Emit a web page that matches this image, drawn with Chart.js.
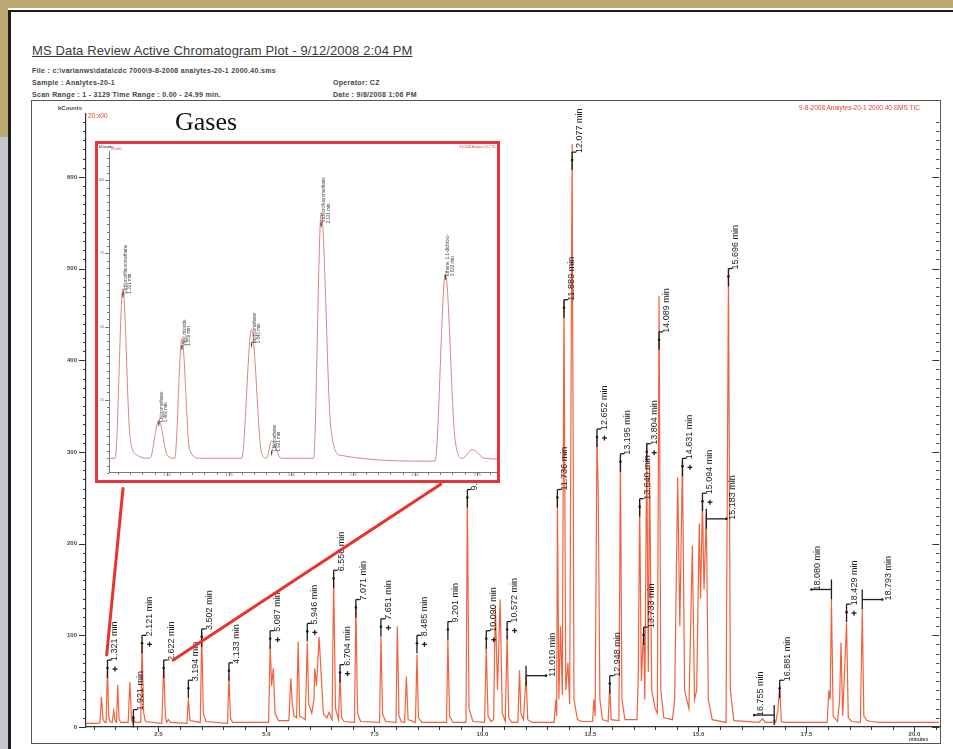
<!DOCTYPE html>
<html lang="en">
<head>
<meta charset="UTF-8">
<meta name="viewport" content="width=device-width, initial-scale=1.0">
<title>MS Data Review Active Chromatogram Plot</title>
<style>
    body {
        margin: 0;
        width: 953px;
        height: 749px;
        overflow: hidden;
        position: relative;
        background: #ffffff;
        font-family: "Liberation Sans", Arial, sans-serif;
        color: #333;
    }

    .abs { position: absolute; white-space: nowrap; }

    #band-top { left: 0; top: 0; width: 953px; height: 8px; background: #bca873; }
    #band-left { left: 0; top: 0; width: 8px; height: 137px; background: #bca873; }
    #gray-left { left: 0; top: 137px; width: 8px; height: 612px; background: #c5c6cc; }
    #page-top { left: 8px; top: 10px; width: 945px; height: 2px; background: #1c1c1c; }
    #page-left { left: 8px; top: 10px; width: 3px; height: 739px; background: #1c1c1c; }

    #title { left: 32px; top: 44px; font-size: 13px; line-height: 13px; letter-spacing: 0.13px; text-decoration: underline; color: #3a3a3a; }
    .info { font-size: 7px; line-height: 7px; font-weight: bold; letter-spacing: 0.3px; color: #444; }

    #plot-box { left: 31px; top: 100px; width: 910px; height: 644px; border: 1px solid #555; box-sizing: border-box; }
    #main { left: 32px; top: 101px; }

    .tiny { font-size: 6px; line-height: 6px; font-weight: bold; color: #444; }
    .red { color: #e8402a; font-weight: normal; font-size: 6.5px; }

    #gases { left: 175px; top: 109px; font-family: "Liberation Serif", "Times New Roman", serif; font-size: 26px; line-height: 26px; color: #111; }

    #inset-box { left: 95px; top: 141px; width: 405px; height: 342px; border: 3px solid #e8333a; box-sizing: border-box; background: #fff; }
    #inset { left: 98px; top: 144px; }
    .inset-tiny { font-size: 3.5px; line-height: 4px; }
</style>
</head>

<body>
    <div class="abs" id="band-top"></div>
    <div class="abs" id="band-left"></div>
    <div class="abs" id="gray-left"></div>
    <div class="abs" id="page-top"></div>
    <div class="abs" id="page-left"></div>

    <div class="abs" id="title">MS Data Review Active Chromatogram Plot - 9/12/2008 2:04 PM</div>
    <div class="abs info" style="left:32px; top:67px;">File : c:\varianws\data\cdc 7000\9-8-2008 analytes-20-1 2000.40.sms</div>
    <div class="abs info" style="left:32px; top:79px;">Sample : Analytes-20-1</div>
    <div class="abs info" style="left:32px; top:91px;">Scan Range : 1 - 3129 Time Range : 0.00 - 24.99 min.</div>
    <div class="abs info" style="left:333px; top:79px;">Operator: CZ</div>
    <div class="abs info" style="left:333px; top:91px;">Date : 9/8/2008 1:06 PM</div>

    <div class="abs" id="plot-box"></div>
    <canvas class="abs" id="main" width="908" height="642"></canvas>

    <div class="abs tiny" style="left:40px; top:105px; width:42px; text-align:right;">kCounts</div>
    <div class="abs tiny red" style="left:88px; top:113px;">20:x00</div>
    <div class="abs tiny red" style="left:700px; top:105px; width:220px; text-align:right;">9-8-2008 Analytes-20-1 2000.40.SMS TIC</div>
    <div class="abs tiny" style="left:909px; top:736px; font-size:5px;">minutes</div>
    <div class="abs" id="gases">Gases</div>

    <div class="abs" id="inset-box"></div>
    <canvas class="abs" id="inset" width="399" height="336"></canvas>
    <div class="abs tiny inset-tiny" style="left:99px; top:145px;">kCounts</div>
    <div class="abs tiny inset-tiny red" style="left:111px; top:147px; font-size:3.5px;">20:x00</div>
    <div class="abs tiny inset-tiny red" style="left:440px; top:145px; width:56px; text-align:right; font-size:3px;">9-8-2008 Analytes-20-1 TIC</div>

    <script src="https://cdn.jsdelivr.net/npm/chart.js"></script>
    <script>
        // TIC trace (minutes, kCounts)
        const retentionTimes = [
            0.824, 1.10, 1.15, 1.18, 1.22, 1.26, 1.29, 1.321, 1.35, 1.38,
            1.43, 1.466, 1.50, 1.53, 1.559, 1.59, 1.63, 1.80, 1.84, 1.88,
            1.90, 1.921, 1.96, 2.09, 2.121, 2.16, 2.20, 2.58, 2.622, 2.66,
            2.69, 2.73, 2.78, 3.16, 3.194, 3.23, 3.47, 3.502, 3.54, 3.60,
            4.10, 4.133, 4.17, 4.22, 5.05, 5.087, 5.12, 5.16, 5.20, 5.28,
            5.52, 5.565, 5.60, 5.64, 5.70, 5.735, 5.77, 5.90, 5.946, 5.98,
            6.05, 6.10, 6.12, 6.16, 6.22, 6.27, 6.32, 6.40, 6.45, 6.50,
            6.52, 6.556, 6.60, 6.67, 6.704, 6.74, 6.80, 7.04, 7.071, 7.11,
            7.18, 7.62, 7.651, 7.69, 7.76, 8.00, 8.03, 8.07, 8.12, 8.20,
            8.24, 8.28, 8.45, 8.485, 8.52, 8.60, 9.17, 9.201, 9.24, 9.32,
            9.62, 9.652, 9.69, 9.78, 10.05, 10.090, 10.13, 10.20, 10.26, 10.30,
            10.35, 10.41, 10.46, 10.53, 10.572, 10.61, 10.68, 10.82, 10.86, 10.89,
            10.95, 11.010, 11.05, 11.15, 11.66, 11.70, 11.72, 11.736, 11.77, 11.81,
            11.85, 11.889, 11.93, 11.98, 12.02, 12.077, 12.12, 12.20, 12.30, 12.55,
            12.58, 12.61, 12.652, 12.68, 12.72, 12.78, 12.91, 12.948, 12.98, 13.16,
            13.195, 13.23, 13.30, 13.58, 13.61, 13.640, 13.68, 13.733, 13.76, 13.804,
            13.84, 13.87, 13.92, 14.00, 14.05, 14.089, 14.13, 14.20, 14.40, 14.45,
            14.52, 14.57, 14.631, 14.68, 14.78, 14.86, 14.91, 14.96, 15.02, 15.05,
            15.094, 15.13, 15.183, 15.23, 15.32, 15.64, 15.696, 15.74, 15.82, 16.40,
            16.48, 16.55, 16.72, 16.755, 16.79, 16.84, 16.881, 16.92, 17.00, 17.98,
            18.02, 18.05, 18.080, 18.12, 18.22, 18.27, 18.30, 18.34, 18.40, 18.429,
            18.47, 18.55, 18.75, 18.793, 18.83, 18.90, 19.00, 19.20, 20.575
        ];
        const kCounts = [
            4, 4, 5, 33, 8, 5, 5, 63, 12, 6,
            5, 18, 6, 5, 46, 8, 5, 5, 49, 7,
            5, 11, 5, 5, 89, 15, 6, 4, 68, 12,
            5, 8, 5, 4, 31, 7, 5, 104, 15, 6,
            4, 56, 9, 5, 5, 88, 45, 64, 15, 7,
            7, 53, 25, 12, 10, 93, 12, 8, 92, 25,
            15, 30, 64, 45, 98, 55, 14, 10, 16, 10,
            8, 162, 20, 8, 58, 10, 6, 5, 134, 15,
            6, 5, 98, 14, 6, 5, 110, 12, 6, 5,
            55, 8, 5, 79, 10, 5, 5, 96, 12, 5,
            5, 252, 20, 6, 5, 88, 12, 6, 8, 132,
            40, 139, 15, 6, 100, 10, 5, 5, 62, 15,
            8, 56, 8, 5, 5, 30, 12, 252, 30, 110,
            35, 466, 40, 70, 25, 636, 30, 8, 6, 6,
            30, 12, 316, 260, 30, 8, 6, 45, 8, 7,
            296, 30, 8, 8, 60, 245, 50, 108, 30, 310,
            60, 285, 40, 20, 15, 470, 40, 10, 8, 30,
            272, 110, 293, 40, 20, 198, 30, 40, 222, 140,
            245, 150, 232, 30, 8, 5, 500, 40, 7, 5,
            9, 5, 5, 8, 5, 18, 45, 6, 5, 5,
            40, 30, 139, 12, 6, 30, 92, 12, 80, 114,
            10, 6, 5, 128, 12, 7, 6, 5, 5
        ];

        // axis ticks
        const xMajorTicks = [2.5, 5.0, 7.5, 10.0, 12.5, 15.0, 17.5, 20.0];
        const yMajorTicks = [0, 100, 200, 300, 400, 500, 600];
        const insetXTicks = [1.50, 1.75, 2.00, 2.25, 2.50, 2.75];
        const insetYTicks = [25, 50, 75, 100];

        // peak annotations
        const labelTimes = [1.321, 1.921, 2.121, 2.622, 3.194, 3.502, 4.133, 5.087, 5.946, 6.556,
            6.704, 7.071, 7.651, 8.485, 9.201, 9.652, 10.090, 10.572, 11.010, 11.736,
            11.889, 12.077, 12.652, 12.948, 13.195, 13.640, 13.733, 13.804, 14.089, 14.631,
            15.094, 15.183, 15.696, 16.755, 16.881, 18.080, 18.429, 18.793];
        const labelCounts = [73, 19, 100, 73, 51, 107, 70, 105, 113, 171,
            68, 139, 118, 100, 115, 259, 105, 115, 56, 259,
            466, 627, 325, 56, 298, 249, 109, 309, 431, 293,
            255, 227, 500, 13, 51, 150, 134, 139];
        const labelsWithPlus = [1.321, 2.121, 5.087, 5.946, 6.704, 7.651, 8.485, 10.090, 10.572,
            12.652, 13.804, 14.631, 15.094, 18.429];
        const leaderRight = [11.010, 15.183, 18.793];
        const leaderLeft = [16.755, 18.080];

        const insetLabelTimes = [1.321, 1.466, 1.559, 1.840, 1.921, 2.121, 2.622];
        const insetLabelCounts = [61, 17, 43, 44, 7, 85, 67];
        const insetLabelNames = ["Dichlorodifluoromethane", "Chloromethane", "Vinyl chloride",
            "Bromomethane", "Chloroethane", "Trichlorofluoromethane", "Ethene, 1,1-dichloro-"];

        const trace = retentionTimes.map((t, i) => ({ x: t, y: kCounts[i] }));
        const FONT = '"Liberation Sans", Arial, sans-serif';

        function stepTicks(start, end, step) {
            const out = [];
            for (let v = start; v <= end + 1e-9; v += step) out.push({ value: Math.round(v * 1000) / 1000 });
            return out;
        }
        function isMajor(v, list) { return list.some(m => Math.abs(m - v) < 1e-6); }
        function seg(ctx, x1, y1, x2, y2) { ctx.beginPath(); ctx.moveTo(x1, y1); ctx.lineTo(x2, y2); ctx.stroke(); }
        function dot(ctx, x, y, r) { ctx.beginPath(); ctx.arc(x, y, r || 1.3, 0, Math.PI * 2); ctx.fill(); }
        function vText(ctx, s, x, y) {
            ctx.save();
            ctx.translate(x, y);
            ctx.rotate(-Math.PI / 2);
            ctx.textAlign = 'left';
            ctx.textBaseline = 'top';
            ctx.fillText(s, 0, 0);
            ctx.restore();
        }

        // tick marks, peak labels and the red callout lines
        const mainMarks = {
            id: 'mainMarks',
            afterDraw(chart) {
                const { ctx, chartArea: a, scales: { x, y } } = chart;
                ctx.save();
                ctx.strokeStyle = '#333';
                ctx.lineWidth = 1;
                y.ticks.forEach(t => {
                    const py = Math.round(y.getPixelForValue(t.value)) + 0.5;
                    const len = isMajor(t.value, yMajorTicks) ? 7 : 3;
                    seg(ctx, a.left - len, py, a.left, py);
                    seg(ctx, a.right - len, py, a.right, py);
                });
                x.ticks.forEach(t => {
                    const px = Math.round(x.getPixelForValue(t.value)) + 0.5;
                    const len = isMajor(t.value, xMajorTicks) ? 5 : 3;
                    seg(ctx, px, a.bottom, px, a.bottom + len);
                });

                ctx.font = '9px ' + FONT;
                ctx.fillStyle = '#1d1d1d';
                ctx.strokeStyle = '#1d1d1d';
                ctx.lineWidth = 1.3;
                labelTimes.forEach((t, i) => {
                    const px = x.getPixelForValue(t);
                    const py = y.getPixelForValue(labelCounts[i]);
                    const text = t.toFixed(3) + ' min';
                    if (leaderRight.includes(t) || leaderLeft.includes(t)) {
                        const ex = px + (leaderRight.includes(t) ? 20 : -20);
                        seg(ctx, px, py - 10, px, py + 10);
                        seg(ctx, px, py, ex, py);
                        dot(ctx, ex, py);
                        vText(ctx, text, ex + 2, py + 1);
                    } else {
                        seg(ctx, px, py, px, py + 18);
                        seg(ctx, px, py, px + 4, py);
                        dot(ctx, px, py + 8);
                        vText(ctx, text, px + 3, py + 1);
                        if (labelsWithPlus.includes(t)) {
                            seg(ctx, px + 5, py + 9, px + 10, py + 9);
                            seg(ctx, px + 7.5, py + 6.5, px + 7.5, py + 11.5);
                        }
                    }
                });

                // lines from the zoomed region up to the inset box
                const callouts = [[1.303, 78.6, 1.68, 260], [2.843, 73, 9.034, 264.7]];
                ctx.strokeStyle = '#e8322e';
                ctx.lineWidth = 3;
                ctx.lineCap = 'round';
                callouts.forEach(c => seg(ctx, x.getPixelForValue(c[0]), y.getPixelForValue(c[1]),
                    x.getPixelForValue(c[2]), y.getPixelForValue(c[3])));
                ctx.restore();
            }
        };

        new Chart(document.getElementById('main'), {
            type: 'line',
            data: {
                datasets: [{
                    data: trace,
                    borderColor: '#f2613d',
                    borderWidth: 1.2,
                    pointRadius: 0,
                    tension: 0,
                    fill: false
                }]
            },
            options: {
                responsive: false,
                animation: false,
                events: [],
                layout: { padding: 0 },
                plugins: { legend: { display: false }, tooltip: { enabled: false } },
                scales: {
                    x: {
                        type: 'linear',
                        min: 0.824,
                        max: 20.575,
                        grid: { display: false, drawTicks: false },
                        border: { display: true, color: '#333', width: 1.2 },
                        afterBuildTicks: s => { s.ticks = stepTicks(1.0, 20.5, 0.5); },
                        afterFit: s => { s.height = 16; },
                        ticks: {
                            autoSkip: false, maxRotation: 0, padding: 4, color: '#444',
                            font: { size: 6, weight: 'bold', family: FONT },
                            callback: v => isMajor(v, xMajorTicks) ? v.toFixed(1) : ''
                        }
                    },
                    y: {
                        type: 'linear',
                        min: 0,
                        max: 669,
                        grid: { display: false, drawTicks: false },
                        border: { display: true, color: '#333', width: 1.2 },
                        afterBuildTicks: s => { s.ticks = stepTicks(0, 660, 10); },
                        afterFit: s => { s.width = 54; },
                        ticks: {
                            autoSkip: false, padding: 9, color: '#444',
                            font: { size: 6, weight: 'bold', family: FONT },
                            callback: v => isMajor(v, yMajorTicks) ? String(v) : ''
                        }
                    }
                }
            },
            plugins: [mainMarks]
        });

        const insetMarks = {
            id: 'insetMarks',
            afterDraw(chart) {
                const { ctx, chartArea: a, scales: { x, y } } = chart;
                ctx.save();
                ctx.strokeStyle = '#555';
                ctx.lineWidth = 0.8;
                y.ticks.forEach(t => {
                    const py = Math.round(y.getPixelForValue(t.value)) + 0.5;
                    const len = isMajor(t.value, insetYTicks) ? 4 : 2;
                    seg(ctx, a.left - len, py, a.left, py);
                });
                x.ticks.forEach(t => {
                    const px = Math.round(x.getPixelForValue(t.value)) + 0.5;
                    const len = isMajor(t.value, insetXTicks) ? 3 : 2;
                    seg(ctx, px, a.bottom, px, a.bottom + len);
                });

                ctx.font = '4.5px ' + FONT;
                ctx.fillStyle = '#444';
                ctx.strokeStyle = '#222';
                ctx.lineWidth = 0.8;
                insetLabelTimes.forEach((t, i) => {
                    const px = x.getPixelForValue(t);
                    const py = y.getPixelForValue(insetLabelCounts[i]);
                    seg(ctx, px, py - 2, px, py + 3);
                    dot(ctx, px, py, 0.8);
                    vText(ctx, insetLabelNames[i], px + 0.5, py - 1);
                    vText(ctx, t.toFixed(3) + ' min', px + 5, py - 1);
                });
                ctx.restore();
            }
        };

        new Chart(document.getElementById('inset'), {
            type: 'line',
            data: {
                datasets: [{
                    data: trace,
                    borderColor: '#d68680',
                    borderWidth: 1,
                    pointRadius: 0,
                    cubicInterpolationMode: 'monotone',
                    fill: false
                }]
            },
            options: {
                responsive: false,
                animation: false,
                events: [],
                layout: { padding: { top: 3 } },
                plugins: { legend: { display: false }, tooltip: { enabled: false } },
                scales: {
                    x: {
                        type: 'linear',
                        min: 1.265,
                        max: 2.83,
                        grid: { display: false, drawTicks: false },
                        border: { display: true, color: '#555', width: 0.8 },
                        afterBuildTicks: s => { s.ticks = stepTicks(1.30, 2.80, 0.05); },
                        afterFit: s => { s.height = 3; },
                        ticks: {
                            autoSkip: false, maxRotation: 0, padding: 0, color: '#666',
                            font: { size: 3.5, family: FONT },
                            callback: v => isMajor(v, insetXTicks) ? v.toFixed(2) : ''
                        }
                    },
                    y: {
                        type: 'linear',
                        min: 0,
                        max: 110,
                        grid: { display: false, drawTicks: false },
                        border: { display: true, color: '#555', width: 0.8 },
                        afterBuildTicks: s => { s.ticks = stepTicks(0, 107.5, 2.5); },
                        afterFit: s => { s.width = 11; },
                        ticks: {
                            autoSkip: false, padding: 5, color: '#666',
                            font: { size: 3.5, family: FONT },
                            callback: v => isMajor(v, insetYTicks) ? String(v) : ''
                        }
                    }
                }
            },
            plugins: [insetMarks]
        });
    </script>
</body>

</html>
